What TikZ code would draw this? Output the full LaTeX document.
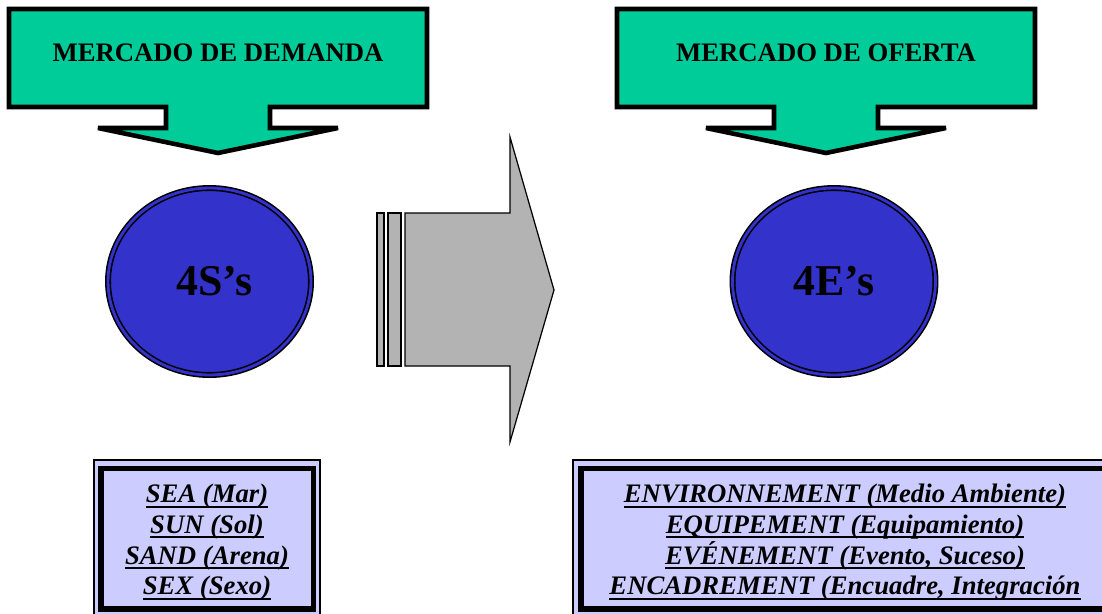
\documentclass[tikz,border=0pt]{standalone}
\usepackage{fontspec}
\setmainfont{Liberation Serif}
\usepackage{tikz}
\usetikzlibrary{shapes,calc}

\definecolor{turquesa}{HTML}{00CC99}
\definecolor{azul}{HTML}{3333CC}
\definecolor{gris}{HTML}{B3B3B3}
\definecolor{lila}{HTML}{CCCCFF}

\begin{document}
\begin{tikzpicture}[x=0.02cm,y=-0.02cm]
    \newcommand{\subrayado}[1]{\setbox0\hbox{#1}\rlap{\rule[-2.8pt]{\wd0}{1.1pt}}\box0}
    \tikzstyle{callout}=[
      draw=black,
      line width=2.6pt,
      fill=turquesa,
      line join=miter,
      miter limit=3,
    ]
    \tikzstyle{title}=[
      inner sep=0pt,
      font=\fontsize{15.2}{18}\selectfont\bfseries,
    ]
    \tikzstyle{market}=[
      ellipse,
      draw=black,
      line width=0.9pt,
      double=azul,
      double distance=1.6pt,
      fill=azul,
      minimum width=4.06cm,
      minimum height=3.74cm,
      font=\fontsize{25}{30}\selectfont\bfseries,
    ]
    \tikzstyle{frame}=[draw=black, line width=0.6pt, fill=lila]
    \tikzstyle{innerframe}=[draw=black, line width=3.3pt]
    \tikzstyle{list}=[
      anchor=north,
      inner sep=0pt,
      align=center,
      font=\fontsize{15.2}{17.4}\selectfont\bfseries\itshape,
    ]
    \tikzstyle{bigarrow}=[draw=black, line width=0.7pt, fill=gris, line join=miter]

    \useasboundingbox (0,0) rectangle (1102,613);
    \clip (0,0) rectangle (1102,613);

    \coordinate (demandaAnchor) at (218,9);
    \coordinate (ofertaAnchor) at (826,9);
    \coordinate (flechaAnchor) at (405,213);

    % demand market
    {
      \draw[callout] ([shift={(-209,0)}] demandaAnchor) -- ++(418,0) -- ++(0,98) -- ++(-157,0) -- ++(0,21)
        -- ++(68,0) -- ++(-120,25) -- ++(-120,-25) -- ++(68,0) -- ++(0,-21) -- ++(-157,0) -- cycle;
      \node[title] (demandaTitle) at ([shift={(0,43.5)}] demandaAnchor) {MERCADO DE DEMANDA};

      \node[market] (demandaCircle) at ([shift={(-8.5,272.5)}] demandaAnchor) {\hspace{6pt}4S’s};

      \draw[frame] (94,460) rectangle (320,620);
      \draw[innerframe] (101,468.5) rectangle (313.5,609);
      \node[list] (demandaList) at (207,484) {\subrayado{SEA (Mar)}\\ \subrayado{SUN (Sol)}\\
        \subrayado{SAND (Arena)}\\ \subrayado{SEX (Sexo)}};
    }

    % supply market
    {
      \draw[callout] ([shift={(-209,0)}] ofertaAnchor) -- ++(418,0) -- ++(0,98) -- ++(-157,0) -- ++(0,21)
        -- ++(68,0) -- ++(-120,25) -- ++(-120,-25) -- ++(68,0) -- ++(0,-21) -- ++(-157,0) -- cycle;
      \node[title] (ofertaTitle) at ([shift={(0,43.5)}] ofertaAnchor) {MERCADO DE OFERTA};

      \node[market] (ofertaCircle) at ([shift={(8,272.5)}] ofertaAnchor) {4E’s};

      \draw[frame] (573,460) rectangle (1120,620);
      \draw[innerframe] (581,468.5) rectangle (1110,609);
      \node[list] (ofertaList) at (845,484) {\subrayado{ENVIRONNEMENT (Medio Ambiente)}\\
        \subrayado{EQUIPEMENT (Equipamiento)}\\ \subrayado{EVÉNEMENT (Evento, Suceso)}\\
        \subrayado{ENCADREMENT (Encuadre, Integración}};
    }

    % big arrow
    {
      \draw[bigarrow] ([shift={(-28,0)}] flechaAnchor) rectangle ++(7,153);
      \draw[bigarrow] ([shift={(-17,0)}] flechaAnchor) rectangle ++(13,153);
      \draw[bigarrow] (flechaAnchor) -- ++(105,0) -- ++(0,-76) -- ++(44,153) -- ++(-44,152)
        -- ++(0,-76) -- ++(-105,0) -- cycle;
    }
  \end{tikzpicture}
\end{document}
